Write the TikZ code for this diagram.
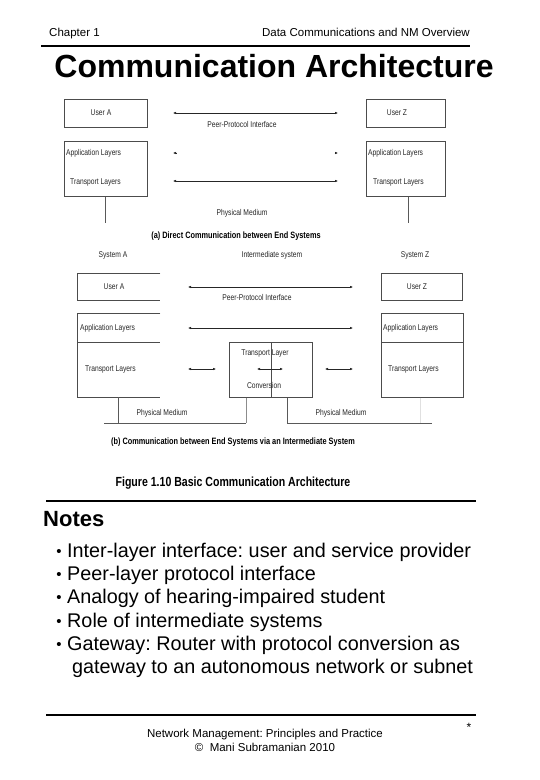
\documentclass[tikz,border=0pt]{standalone}
\usepackage{fontspec}
\setmainfont{Liberation Sans}
\newfontfamily\dfont[FakeStretch=0.8]{Liberation Sans}
\usetikzlibrary{arrows.meta}
\frenchspacing
\tikzset{
  box/.style={draw=black!70,line width=0.6pt,inner sep=0pt},
  openbox/.style={draw=black!70,line width=0.6pt},
  lbl/.style={inner sep=0pt,text=black!85,font=\dfont\fontsize{8.4}{9}\selectfont},
  captxt/.style={inner sep=0pt,font=\dfont\bfseries\fontsize{9.2}{10}\selectfont},
  figcap/.style={inner sep=0pt,font=\dfont\bfseries\fontsize{13.2}{15}\selectfont},
  arr/.style={draw=black!85,line width=0.5pt,{Latex[length=3pt,width=2.6pt]}-{Latex[length=3pt,width=2.6pt]}},
  tiparr/.style={draw=black!85,line width=0.5pt,-{Latex[length=3pt,width=2.6pt]}},
  medium/.style={draw=black!65,line width=0.6pt},
  hrule/.style={draw=black,line width=1.6pt},
  notetxt/.style={inner sep=0pt,anchor=base west,font=\fontsize{19.8}{24}\selectfont},
}
\begin{document}
\begin{tikzpicture}[x=1pt,y=-1pt]
\useasboundingbox (0,0) rectangle (540,780);
% header
\node[inner sep=0pt,anchor=base west,font=\fontsize{11.5}{13}\selectfont] (chap) at (49,36) {Chapter 1};
\node[inner sep=0pt,anchor=base east,font=\fontsize{11.5}{13}\selectfont] (hdr) at (470,36) {Data Communications and NM Overview};
\coordinate (r1a) at (41,46); \coordinate (r1b) at (470,46);
\draw[hrule] (r1a) -- (r1b);
\node[inner sep=0pt,anchor=base,font=\bfseries\fontsize{32}{36}\selectfont] (title) at (274,77) {Communication Architecture};

% ---------- part (a)
\node[box,minimum width=83pt,minimum height=28pt,anchor=north west] (uA) at (64,99) {};
\node[lbl] (tuA) at (101,113) {User A};
\node[box,minimum width=79pt,minimum height=28pt,anchor=north west] (uZ) at (366,99) {};
\node[lbl] (tuZ) at (397,113) {User Z};
\node[box,minimum width=83pt,minimum height=55pt,anchor=north west] (sA) at (64,141) {};
\node[lbl,anchor=west] (aA) at (66,153) {Application Layers};
\node[lbl,anchor=west] (tA) at (70,182) {Transport Layers};
\node[box,minimum width=79pt,minimum height=55pt,anchor=north west] (sZ) at (366,141) {};
\node[lbl,anchor=west] (aZ) at (368,153) {Application Layers};
\node[lbl,anchor=west] (tZ) at (373,182) {Transport Layers};
\coordinate (p1a) at (173,113); \coordinate (p1b) at (338,113);
\draw[arr] (p1a) -- (p1b);
\node[lbl] (ppi) at (242,124) {Peer-Protocol Interface};
\coordinate (p2a) at (173,153); \coordinate (p2as) at (176.5,153);
\coordinate (p2b) at (338,153); \coordinate (p2bs) at (334.5,153);
\draw[tiparr] (p2as) -- (p2a);
\draw[tiparr] (p2bs) -- (p2b);
\coordinate (p3a) at (173,181); \coordinate (p3b) at (338,181);
\draw[arr] (p3a) -- (p3b);
\coordinate (vA) at (105,223); \coordinate (vZ) at (408,223);
\draw[medium] (sA.south west -| vA) -- (vA);
\draw[medium] (sZ.south west -| vZ) -- (vZ);
\node[lbl] (pm) at (242,213) {Physical Medium};
\node[captxt] (capa) at (236,236) {(a) Direct Communication between End Systems};

% ---------- part (b)
\node[lbl] (sysA) at (113,255) {System A};
\node[lbl] (sysI) at (272,255) {Intermediate system};
\node[lbl] (sysZ) at (415,255) {System Z};
\node[minimum width=83pt,minimum height=27pt,anchor=north west,inner sep=0pt] (buA) at (77,273) {};
\draw[openbox] (buA.north east) -- (buA.north west) -- (buA.south west) -- (buA.south east);
\node[lbl] (tbuA) at (114,287) {User A};
\node[box,minimum width=81pt,minimum height=27pt,anchor=north west] (buZ) at (381,273) {};
\node[lbl] (tbuZ) at (417,287) {User Z};
\coordinate (q1a) at (188,287); \coordinate (q1b) at (353,287);
\draw[arr] (q1a) -- (q1b);
\node[lbl] (bppi) at (257,297) {Peer-Protocol Interface};
% system A stack (open right)
\node[minimum width=83pt,minimum height=84pt,anchor=north west,inner sep=0pt] (bsA) at (77,313) {};
\coordinate (dA) at (77,342);
\draw[openbox] (bsA.north east) -- (bsA.north west) -- (bsA.south west) -- (bsA.south east);
\draw[openbox] (dA) -- (dA -| bsA.east);
\node[lbl,anchor=west] (baA) at (80,328) {Application Layers};
\node[lbl,anchor=west] (btA) at (85,369) {Transport Layers};
% system Z stack
\node[box,minimum width=82pt,minimum height=84pt,anchor=north west] (bsZ) at (381,313) {};
\coordinate (dZ) at (381,342);
\draw[openbox] (dZ) -- (dZ -| bsZ.east);
\node[lbl,anchor=west] (baZ) at (383,328) {Application Layers};
\node[lbl,anchor=west] (btZ) at (388,369) {Transport Layers};
% intermediate
\node[box,minimum width=83pt,minimum height=55pt,anchor=north west] (bI) at (229,342) {};
\coordinate (dI) at (271,342);
\draw[openbox] (dI) -- (dI |- bI.south);
\node[lbl] (tl) at (265,353) {Transport Layer};
\node[lbl] (cv) at (264,385) {Conversion};
\coordinate (q2a) at (188,328); \coordinate (q2b) at (353,328);
\draw[arr,line width=0.7pt] (q2a) -- (q2b);
\coordinate (q3a) at (188,369); \coordinate (q3b) at (216,369);
\coordinate (q4a) at (257,369); \coordinate (q4b) at (283,369);
\coordinate (q5a) at (325,369); \coordinate (q5b) at (353,369);
\draw[arr] (q3a) -- (q3b);
\draw[arr] (q4a) -- (q4b);
\draw[arr] (q5a) -- (q5b);
% physical medium (b)
\coordinate (hA) at (104,423); \coordinate (hB) at (246,423);
\coordinate (hC) at (287,423); \coordinate (hD) at (432,423);
\coordinate (wA) at (118,423); \coordinate (wZ) at (420,423);
\draw[medium] (hA) -- (hB);
\draw[medium] (hC) -- (hD);
\draw[medium] (bsA.south -| wA) -- (wA);
\draw[medium,draw=black!45] (bI.south -| hB) -- (hB);
\draw[medium] (bI.south -| hC) -- (hC);
\draw[medium,draw=black!12] (bsZ.south -| wZ) -- (wZ);
\node[lbl] (bpm1) at (162,413) {Physical Medium};
\node[lbl] (bpm2) at (341,413) {Physical Medium};
\node[captxt] (capb) at (233,442) {(b) Communication between End Systems via an Intermediate System};
\node[figcap] (fig) at (233,483) {Figure 1.10 Basic Communication Architecture};

% ---------- notes
\coordinate (r2a) at (46,501); \coordinate (r2b) at (476,501);
\draw[hrule] (r2a) -- (r2b);
\node[inner sep=0pt,anchor=base west,font=\bfseries\fontsize{22}{26}\selectfont] (notes) at (43,526) {Notes};
\foreach \i/\yy/\t in {1/557/{Inter-layer interface: user and service provider},
                        2/580/{Peer-layer protocol interface},
                        3/603/{Analogy of hearing-impaired student},
                        4/627/{Role of intermediate systems},
                        5/650/{Gateway: Router with protocol conversion as}}{
  \node[notetxt] (n\i) at (67,\yy) {\t};
  \node[inner sep=0pt,anchor=base,font=\fontsize{15}{16}\selectfont] (b\i) at (59,\yy-1) {•};
}
\node[notetxt] (n6) at (72,673) {gateway to an autonomous network or subnet};

% ---------- footer
\coordinate (r3a) at (46,715); \coordinate (r3b) at (476,715);
\draw[hrule] (r3a) -- (r3b);
\node[inner sep=0pt,anchor=base,font=\fontsize{11.5}{14}\selectfont] (f1) at (265,737) {Network Management: Principles and Practice};
\node[inner sep=0pt,anchor=base,font=\fontsize{11.5}{14}\selectfont] (f2) at (265,751) {©\ \ Mani Subramanian 2010};
\node[inner sep=0pt,anchor=base,font=\fontsize{12}{14}\selectfont] (star) at (469,731) {*};
\end{tikzpicture}
\end{document}
